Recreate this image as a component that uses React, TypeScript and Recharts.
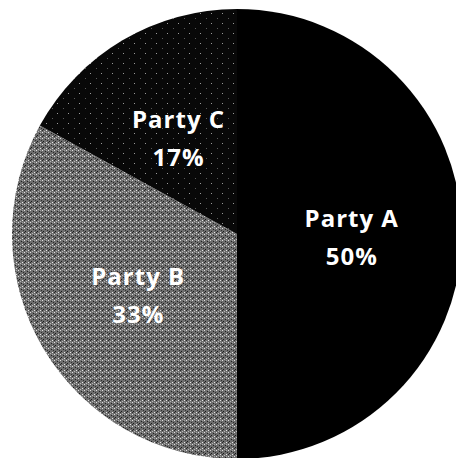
import React from "react";
import { PieChart, Pie, Cell } from "recharts";

const parties = ["Party A", "Party B", "Party C"];
const shares = [50, 33, 17];
const fills = ["#000000", "url(#texB)", "url(#texC)"];

const data = parties.map((name, i) => ({ name, value: shares[i] }));

const RAD = Math.PI / 180;

const renderLabel = (props: any) => {
  const { cx, cy, midAngle, outerRadius, name, percent } = props;
  const r = outerRadius * 0.51;
  const x = cx + r * Math.cos(-midAngle * RAD);
  const y = cy + r * Math.sin(-midAngle * RAD);
  return (
    <text
      x={x}
      y={y}
      fill="#ffffff"
      textAnchor="middle"
      fontFamily="'Open Sans', sans-serif"
      fontWeight="bold"
      fontSize={24}
      letterSpacing={1}
    >
      <tspan x={x} dy={-7}>{name}</tspan>
      <tspan x={x} dy={38}>{`${Math.round(percent * 100)}%`}</tspan>
    </text>
  );
};

export default function App() {
  return (
    <div style={{ position: "absolute", left: 0, top: 0, width: 456, height: 458, background: "#fff" }}>
      <PieChart width={456} height={458} margin={{ top: 0, right: 0, bottom: 0, left: 0 }}>
        <defs>
          <pattern id="texB" width="6" height="6" patternUnits="userSpaceOnUse">
            <rect width="6" height="6" fill="#6e6e6e" />
            <rect x="0" y="0" width="1" height="1" fill="#e0e0e0" />
            <rect x="3" y="1" width="1" height="1" fill="#202020" />
            <rect x="1" y="3" width="1" height="1" fill="#1a1a1a" />
            <rect x="4" y="4" width="1" height="1" fill="#e8e8e8" />
            <rect x="2" y="5" width="1" height="1" fill="#b8b8b8" />
            <rect x="5" y="2" width="1" height="1" fill="#303030" />
            <rect x="4" y="0" width="1" height="1" fill="#a0a0a0" />
            <rect x="0" y="4" width="1" height="1" fill="#282828" />
          </pattern>
          <pattern id="texC" width="11" height="10" patternUnits="userSpaceOnUse">
            <rect width="11" height="10" fill="#080808" />
            <rect x="2" y="3" width="1" height="1" fill="#9a9a9a" />
            <rect x="8" y="8" width="1" height="1" fill="#5a5a5a" />
          </pattern>
        </defs>
        <Pie
          data={data}
          dataKey="value"
          nameKey="name"
          cx={237}
          cy={234}
          outerRadius={225}
          startAngle={90}
          endAngle={-270}
          stroke="none"
          label={renderLabel}
          labelLine={false}
          isAnimationActive={false}
        >
          {data.map((d, i) => (
            <Cell key={d.name} fill={fills[i]} />
          ))}
        </Pie>
      </PieChart>
    </div>
  );
}
